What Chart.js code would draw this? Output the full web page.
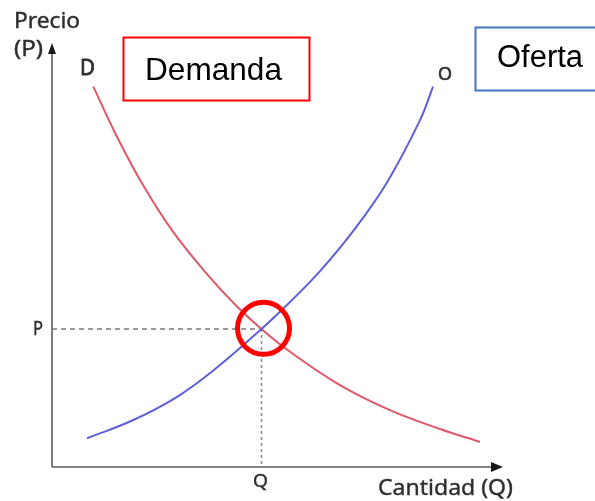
<!DOCTYPE html>
<html>
<head>
<meta charset="utf-8">
<script src="https://cdn.jsdelivr.net/npm/chart.js@4.4.1/dist/chart.umd.min.js"></script>
<style>
  html, body { margin: 0; padding: 0; background: #ffffff; }
  #wrap { width: 595px; height: 501px; position: relative; }
</style>
</head>
<body>
<div id="wrap"><canvas id="c" width="595" height="501"></canvas></div>
<script>
// ---- Data (arbitrary units, axis origin = 0) ----
const demandQ = [9.16, 14.41, 20.18, 26.83, 34.37, 41.02, 46.45, 52.11, 63.86, 74.94, 86.03, 94.9];
const demandP = [89.7, 77.9, 66.5, 55.5, 45.5, 37.85, 32.55, 27.7, 19.3, 13.4, 8.96, 5.9];
const supplyQ = [7.76, 18.03, 27.65, 35.77, 46.45, 52.77, 59.42, 66.81, 74.21, 81.6, 84.48];
const supplyP = [6.77, 11.08, 16.5, 22.76, 32.55, 38.9, 46.2, 55.7, 67.0, 81.8, 89.7];
const equilibrium = { q: 46.45, p: 32.55 };
const circleCenter = { q: 46.9, p: 32.7 };
const axisMax = { q: 100, p: 100 };
const tickLabels = { p: "P", q: "Q" };
const axisTitles = { y1: "Precio", y2: "(P)", x: "Cantidad (Q)" };
const curveLabels = { demand: "D", supply: "O" };
const boxLabels = { demand: "Demanda", supply: "Oferta" };

const toPts = (xs, ys) => xs.map((x, i) => ({ x: x, y: ys[i] }));

function drawText(ctx, text, x, y, font, color, targetW, align, stroke) {
  ctx.save();
  ctx.font = font;
  ctx.fillStyle = color;
  ctx.strokeStyle = color;
  ctx.textBaseline = 'alphabetic';
  const w = ctx.measureText(text).width;
  const sx = targetW ? targetW / w : 1;
  let left = x;
  if (align === 'center') left = x - (w * sx) / 2;
  ctx.translate(left, y);
  ctx.scale(sx, 1);
  ctx.fillText(text, 0, 0);
  if (stroke) { ctx.lineWidth = stroke; ctx.strokeText(text, 0, 0); }
  ctx.restore();
}

const annot = {
  id: 'annot',
  beforeDatasetsDraw(chart) {
    const ctx = chart.ctx;
    const xs = chart.scales.x, ys = chart.scales.y;
    const x0 = xs.getPixelForValue(0), y0 = ys.getPixelForValue(0);
    const xEnd = xs.getPixelForValue(axisMax.q), yEnd = ys.getPixelForValue(axisMax.p);
    ctx.save();
    ctx.strokeStyle = '#5a5a5a';
    ctx.fillStyle = '#1a1a1a';
    ctx.lineWidth = 1.6;
    ctx.beginPath(); ctx.moveTo(x0, y0); ctx.lineTo(x0, yEnd + 8); ctx.stroke();
    ctx.beginPath(); ctx.moveTo(x0, yEnd); ctx.lineTo(x0 - 4, yEnd + 11); ctx.lineTo(x0 + 4, yEnd + 11); ctx.closePath(); ctx.fill();
    ctx.beginPath(); ctx.moveTo(x0, y0); ctx.lineTo(xEnd - 8, y0); ctx.stroke();
    ctx.beginPath(); ctx.moveTo(xEnd, y0); ctx.lineTo(xEnd - 12, y0 - 5); ctx.lineTo(xEnd - 12, y0 + 5); ctx.closePath(); ctx.fill();
    ctx.restore();
  },
  afterDatasetsDraw(chart) {
    const ctx = chart.ctx;
    const xs = chart.scales.x;
    const eqX = xs.getPixelForValue(equilibrium.q);
    const gray = '#2e2e2e';
    const f = (s) => s + 'px "Noto Sans", "Open Sans", sans-serif';
    drawText(ctx, axisTitles.y1, 14, 28, f(21), gray, 66, null, 0.4);
    drawText(ctx, axisTitles.y2, 14, 56, f(21), gray, 29, null, 0.4);
    drawText(ctx, axisTitles.x, 378, 495, f(22), gray, 135, null, 0.4);
    drawText(ctx, curveLabels.demand, 80, 75, f(22), gray, 15, null, 0.8);
    drawText(ctx, curveLabels.supply, 438, 80, f(18), gray, 14, null, 0.6);
    drawText(ctx, tickLabels.p, 33, 335, f(19), gray, 10, null, 0.4);
    drawText(ctx, tickLabels.q, eqX - 1, 487, f(18), gray, 15, 'center', 0.4);

    ctx.save();
    ctx.lineWidth = 2;
    ctx.fillStyle = '#ffffff';
    ctx.fillRect(123.5, 37.5, 186, 63);
    ctx.strokeStyle = '#ff0000';
    ctx.strokeRect(123.5, 37.5, 186, 63);
    ctx.fillRect(475.5, 27.5, 130, 63);
    ctx.strokeStyle = '#4472c4';
    ctx.strokeRect(475.5, 27.5, 130, 63);
    ctx.restore();
    const af = (s) => s + 'px "Liberation Sans", Arial, sans-serif';
    drawText(ctx, boxLabels.demand, 145, 80, af(31.5), '#000000', 137);
    drawText(ctx, boxLabels.supply, 497, 67, af(31), '#000000', 86);
  }
};

new Chart(document.getElementById('c'), {
  type: 'scatter',
  data: {
    datasets: [
      {
        label: 'equilibrio',
        data: [{ x: circleCenter.q, y: circleCenter.p }],
        pointRadius: 26,
        pointBorderWidth: 5,
        pointBorderColor: '#ff0000',
        pointBackgroundColor: 'rgba(0,0,0,0)',
        pointHoverRadius: 26,
        showLine: false,
        order: 0
      },
      {
        label: 'Oferta',
        data: toPts(supplyQ, supplyP),
        showLine: true,
        borderColor: 'rgb(95,95,215)',
        borderWidth: 2,
        pointRadius: 0,
        tension: 0.4,
        order: 1
      },
      {
        label: 'Demanda',
        data: toPts(demandQ, demandP),
        showLine: true,
        borderColor: 'rgb(222,88,105)',
        borderWidth: 2,
        pointRadius: 0,
        tension: 0.4,
        order: 2
      },
      {
        label: 'guiaP',
        data: [{ x: 0, y: equilibrium.p }, { x: equilibrium.q, y: equilibrium.p }],
        showLine: true,
        borderColor: '#7a7a7a',
        borderWidth: 1.3,
        borderDash: [5, 4],
        pointRadius: 0,
        order: 3
      },
      {
        label: 'guiaQ',
        data: [{ x: equilibrium.q, y: equilibrium.p }, { x: equilibrium.q, y: 0 }],
        showLine: true,
        borderColor: '#8a8a8a',
        borderWidth: 1.5,
        borderDash: [3, 3],
        pointRadius: 0,
        order: 3
      }
    ]
  },
  options: {
    responsive: false,
    animation: false,
    events: [],
    layout: { padding: { left: 52, right: 92, top: 43, bottom: 34 } },
    plugins: { legend: { display: false }, tooltip: { enabled: false } },
    scales: {
      x: { type: 'linear', min: 0, max: axisMax.q, display: false },
      y: { type: 'linear', min: 0, max: axisMax.p, display: false }
    }
  },
  plugins: [annot]
});
</script>
</body>
</html>
